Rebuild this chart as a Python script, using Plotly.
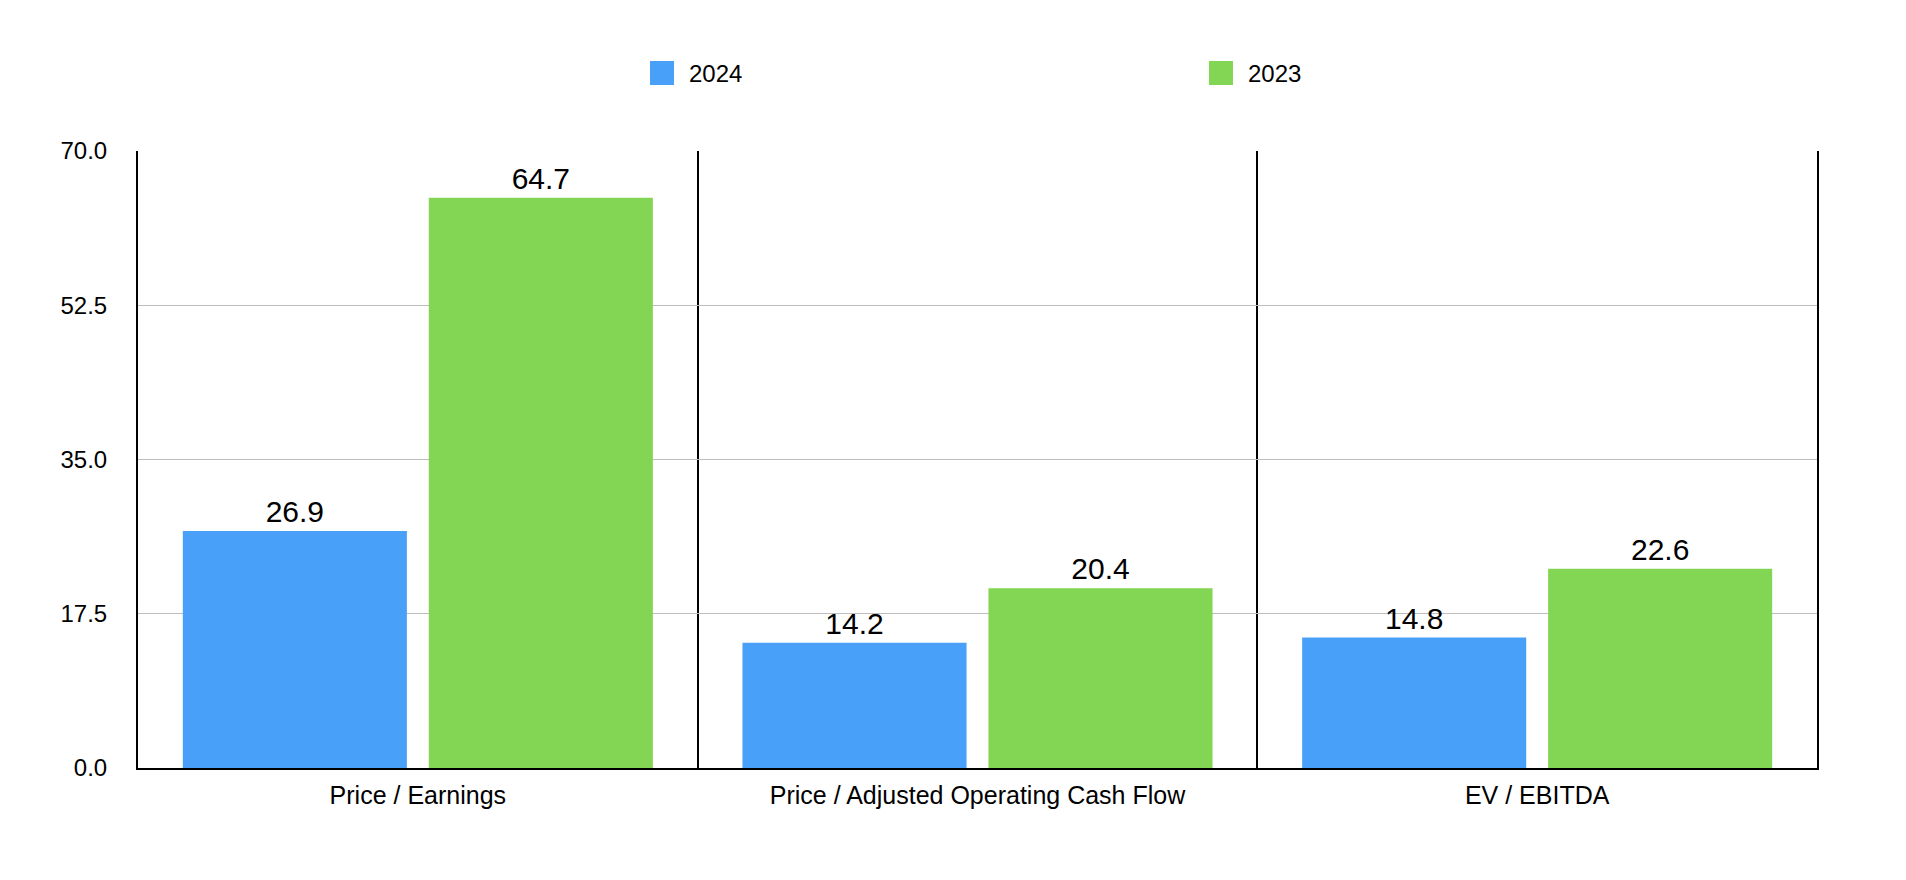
import plotly.graph_objects as go

categories = ["Price / Earnings", "Price / Adjusted Operating Cash Flow", "EV / EBITDA"]
series_names = ["2024", "2023"]
values_2024 = [26.9, 14.2, 14.8]
values_2023 = [64.7, 20.4, 22.6]
y_ticks = [0, 17.5, 35, 52.5, 70]

colors = ["#49A0F8", "#83D653"]
FONT = "Liberation Sans, Arial, Helvetica, sans-serif"

# page body has an 8px default margin; compensate so the plot lands where the reference has it
OFF = 8
W, H = 1906 - 2 * OFF, 880 - 2 * OFF
ML, MT = 138 - OFF, 151 - OFF
PW, PH = 1679, 617
MR, MB = W - ML - PW, H - MT - PH

fig = go.Figure()
for name, vals, col in zip(series_names, [values_2024, values_2023], colors):
    fig.add_trace(go.Bar(
        x=categories, y=vals, name=name, marker=dict(color=col, line=dict(width=0)),
        text=[f"{v:.1f}" for v in vals], textposition="outside",
        textfont=dict(size=30, color="#000000", family=FONT),
        cliponaxis=False, showlegend=False, hoverinfo="x+y+name",
    ))

# manual legend (large square swatches like the reference); positions in page pixels
def px_x(p):
    return (p - OFF - ML) / PW

def px_y(p):
    return (H - MB - (p - OFF)) / PH

legend_x0 = [650, 1209]
shapes = []
annotations = []
for name, col, x0 in zip(series_names, colors, legend_x0):
    shapes.append(dict(type="rect", xref="paper", yref="paper",
                       x0=px_x(x0), x1=px_x(x0 + 24), y0=px_y(85), y1=px_y(61),
                       fillcolor=col, line=dict(width=0)))
    annotations.append(dict(text=name, xref="paper", yref="paper", x=px_x(x0 + 37), y=px_y(74),
                            xanchor="left", yanchor="middle", showarrow=False,
                            font=dict(size=24, color="#000000", family=FONT)))

fig.update_layout(
    width=W, height=H,
    margin=dict(l=ML, r=MR, t=MT, b=MB, pad=0),
    paper_bgcolor="#FFFFFF", plot_bgcolor="#FFFFFF",
    barmode="group", bargap=0.121, bargroupgap=0.089,
    font=dict(family=FONT, size=24, color="#000000"),
    showlegend=False,
    shapes=shapes, annotations=annotations,
    xaxis=dict(
        type="category", tickson="boundaries", showgrid=True, gridcolor="#000000", gridwidth=2,
        showline=True, linecolor="#000000", linewidth=2, ticks="",
        ticklabelstandoff=4,
        tickfont=dict(size=25, color="#000000", family=FONT),
    ),
    yaxis=dict(
        range=[0, 70], tickvals=y_ticks, tickformat=".1f",
        showgrid=True, gridcolor="#BDBDBD", gridwidth=1, zeroline=False,
        showline=True, linecolor="#000000", linewidth=2, mirror=True, ticks="",
        ticklabelstandoff=24,
        tickfont=dict(size=24, color="#000000", family=FONT),
    ),
)

fig.write_html("out.html")
